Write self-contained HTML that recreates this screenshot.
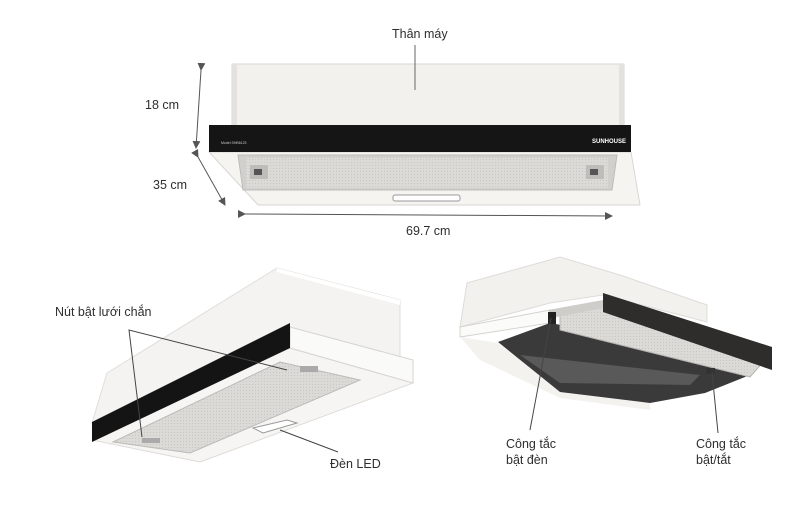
<!DOCTYPE html>
<html><head><meta charset="utf-8"><style>
html,body{margin:0;padding:0;background:#fff}
svg{display:block}
text{font-family:"Liberation Sans","DejaVu Sans",sans-serif;fill:#2e2e2e;font-size:12.5px}
</style></head><body>
<svg width="800" height="522" viewBox="0 0 800 522" xmlns="http://www.w3.org/2000/svg">
<defs>
<marker id="ar" markerWidth="8" markerHeight="8" refX="7" refY="4" orient="auto" markerUnits="userSpaceOnUse"><path d="M0,0 L8,4 L0,8 z" fill="#555"/></marker>
<pattern id="mesh" width="3" height="3" patternUnits="userSpaceOnUse"><rect width="3" height="3" fill="#dcdad6"/><rect width="1" height="1" fill="#c9c7c3"/></pattern>
</defs>

<!-- TOP PRODUCT -->
<rect x="232" y="64" width="392" height="62" fill="#f2f1ee" stroke="#d8d6d2" stroke-width="1"/>
<rect x="232" y="64" width="5" height="62" fill="#e4e2de"/>
<rect x="619" y="64" width="5" height="62" fill="#e4e2de"/>
<polygon points="209,152 631,152 640,205 258,205" fill="#f5f4f1" stroke="#d8d6d2"/>
<polygon points="238,155 617,155 612,190 243,190" fill="#d2d0cc" stroke="#bdbbb7"/>
<rect x="246" y="158" width="362" height="30" fill="url(#mesh)"/>
<rect x="250" y="165" width="18" height="14" fill="#bfbdb9"/><rect x="254" y="169" width="8" height="6" fill="#555"/>
<rect x="586" y="165" width="18" height="14" fill="#bfbdb9"/><rect x="590" y="169" width="8" height="6" fill="#555"/>
<rect x="393" y="195" width="67" height="6" rx="2" fill="#fff" stroke="#999"/>
<rect x="209" y="125" width="422" height="27" fill="#151515"/>
<text x="592" y="143" style="font-size:6px;fill:#fff;font-weight:bold">SUNHOUSE</text>
<text x="221" y="144" style="font-size:3.5px;fill:#ccc">Model SHB6123</text>

<line x1="415" y1="45" x2="415" y2="90" stroke="#666" stroke-width="1"/>
<text x="392" y="38">Thân máy</text>
<line x1="201" y1="70" x2="196" y2="148" stroke="#555" marker-start="url(#ar)" marker-end="url(#ar)"/>
<line x1="198" y1="157" x2="225" y2="205" stroke="#555" marker-start="url(#ar)" marker-end="url(#ar)"/>
<line x1="245" y1="214" x2="612" y2="216" stroke="#555" marker-start="url(#ar)" marker-end="url(#ar)"/>
<text x="145" y="109">18 cm</text>
<text x="153" y="189">35 cm</text>
<text x="406" y="235">69.7 cm</text>

<!-- BOTTOM LEFT PRODUCT -->
<polygon points="107,373 277,268 400,300 400,360 290,327 92,423" fill="#f4f3f1" stroke="#e0deda"/>
<polygon points="277,268 400,300 400,305 277,272" fill="#fff"/>
<polygon points="92,440 290,348 413,383 200,462" fill="#f6f5f3" stroke="#dddbd7"/>
<polygon points="113,442 280,362 360,380 190,453" fill="url(#mesh)" stroke="#bcbab6"/>
<polygon points="253,428 287,420 297,423 263,433" fill="#fff" stroke="#999"/>
<polygon points="290,327 413,360 413,383 290,348" fill="#fafaf8" stroke="#d6d4d0"/>
<polygon points="92,422 290,323 290,348 92,442" fill="#141414"/>
<rect x="300" y="366" width="18" height="6" fill="#aaa"/>
<rect x="142" y="438" width="18" height="5" fill="#aaa"/>
<polyline points="287,370 129,330 142,437" fill="none" stroke="#444" stroke-width="1"/>
<line x1="280" y1="430" x2="338" y2="452" stroke="#444"/>
<text x="55" y="316">Nút bật lưới chắn</text>
<text x="330" y="468">Đèn LED</text>

<!-- BOTTOM RIGHT PRODUCT -->
<polygon points="467,283 560,257 620,275 707,305 707,322 603,295 550,303 460,327" fill="#f2f1ee" stroke="#dedcd8"/>
<polygon points="460,327 550,310 550,323 460,337" fill="#fbfbf9" stroke="#d6d4d0"/>
<polygon points="460,337 498,343 560,392 650,403 650,410 560,398 480,360" fill="#f3f2ef"/>
<polygon points="498,342 550,323 700,350 750,375 705,393 650,403 560,392" fill="#3a3a3a"/>
<polygon points="520,355 700,375 690,385 560,383" fill="#777" opacity="0.5"/>
<polygon points="560,313 603,304 765,360 750,377 560,330" fill="url(#mesh)" stroke="#b5b3af"/>
<polygon points="548,310 603,300 603,308 552,318" fill="#cfcdc9"/>
<polygon points="603,293 772,347 772,370 603,312" fill="#2e2d2b"/>
<rect x="548" y="312" width="8" height="12" fill="#222"/>
<rect x="706" y="368" width="9" height="6" fill="#333"/>
<line x1="551" y1="318" x2="530" y2="430" stroke="#444"/>
<line x1="712" y1="372" x2="718" y2="433" stroke="#444"/>
<text x="506" y="448">Công tắc</text>
<text x="506" y="464">bật đèn</text>
<text x="696" y="448">Công tắc</text>
<text x="696" y="464">bật/tắt</text>
</svg>
</body></html>
